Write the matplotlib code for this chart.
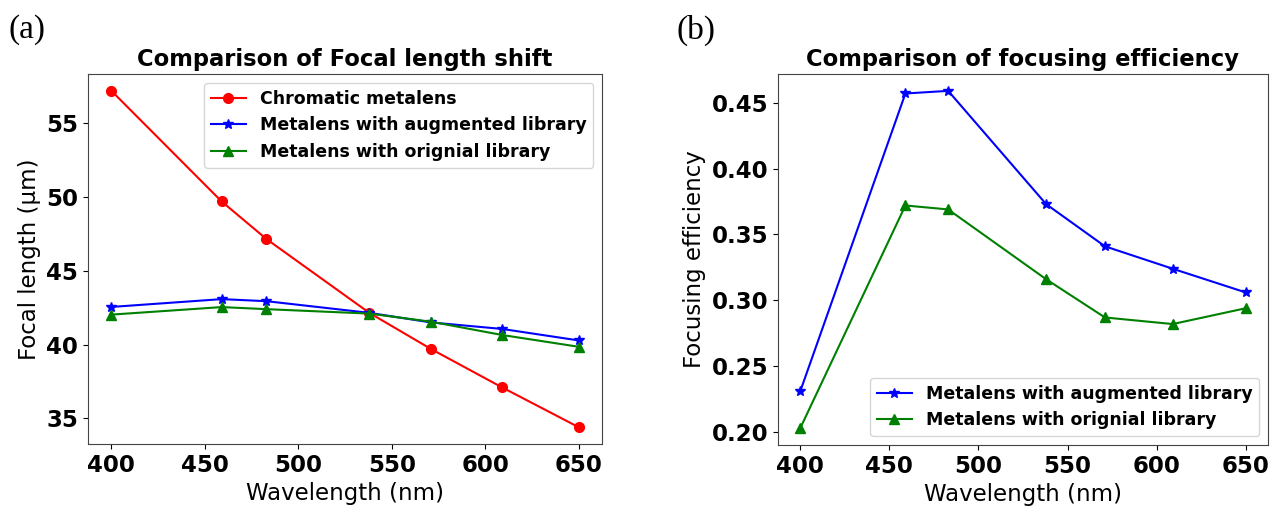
import matplotlib
matplotlib.use("Agg")
import matplotlib.pyplot as plt

wavelength = [400, 459, 483, 538, 571, 609, 650]  #nm

focal_chromatic = [57.2, 49.7, 47.15, 42.15, 39.7, 37.1, 34.4]  #um
focal_augmented = [42.55, 43.08, 42.94, 42.15, 41.5, 41.06, 40.28]
focal_original = [42.03, 42.54, 42.4, 42.1, 41.55, 40.65, 39.85]

eff_augmented = [0.231, 0.457, 0.459, 0.373, 0.341, 0.324, 0.306]
eff_original = [0.203, 0.372, 0.369, 0.316, 0.287, 0.282, 0.294]

label_chrom = "Chromatic metalens"
label_aug = "Metalens with augmented library"
label_orig = "Metalens with orignial library"

W, H = 1274, 509
fig = plt.figure(figsize=(W/100, H/100), dpi=100)
ax1 = fig.add_axes([88/W, 1 - 444/H, (602-88)/W, (444-74)/H])
ax2 = fig.add_axes([778/W, 1 - 445/H, (1268-778)/W, (445-74)/H])

#(a) focal length
ax1.plot(wavelength, focal_chromatic, color="red", marker="o", markersize=7, lw=1.5, label=label_chrom)
ax1.plot(wavelength, focal_augmented, color="blue", marker="*", markersize=7, lw=1.5, label=label_aug)
ax1.plot(wavelength, focal_original, color="green", marker="^", markersize=7, lw=1.5, label=label_orig)
ax1.set_title("Comparison of Focal length shift", fontsize=16.3, fontweight="bold")
ax1.set_xlabel("Wavelength (nm)", fontsize=16.5)
ax1.set_ylabel("Focal length (\u03bcm)", fontsize=16.5)
ax1.set_yticks([35, 40, 45, 50, 55])
ax1.legend(loc="upper right", prop={"weight": "bold", "size": 12.5})

#(b) focusing efficiency
ax2.plot(wavelength, eff_augmented, color="blue", marker="*", markersize=7, lw=1.5, label=label_aug)
ax2.plot(wavelength, eff_original, color="green", marker="^", markersize=7, lw=1.5, label=label_orig)
ax2.set_title("Comparison of focusing efficiency", fontsize=16.3, fontweight="bold")
ax2.set_xlabel("Wavelength (nm)", fontsize=16.5)
ax2.set_ylabel("Focusing efficiency", fontsize=16.5)
ax2.set_yticks([0.20, 0.25, 0.30, 0.35, 0.40, 0.45])
ax2.legend(loc="lower right", prop={"weight": "bold", "size": 12.5})

for ax in (ax1, ax2):
    ax.set_xticks([400, 450, 500, 550, 600, 650])
    ax.tick_params(labelsize=16.5)
    for lab in ax.get_xticklabels() + ax.get_yticklabels():
        lab.set_fontweight("bold")
    for sp in ax.spines.values():
        sp.set_color("#444444")

fig.text(8/W, 1 - 30/H, "(a)", fontsize=24, family="Liberation Serif", va="center")
fig.text(676/W, 1 - 30/H, "(b)", fontsize=24, family="Liberation Serif", va="center")

plt.savefig("out.png", dpi=100)
